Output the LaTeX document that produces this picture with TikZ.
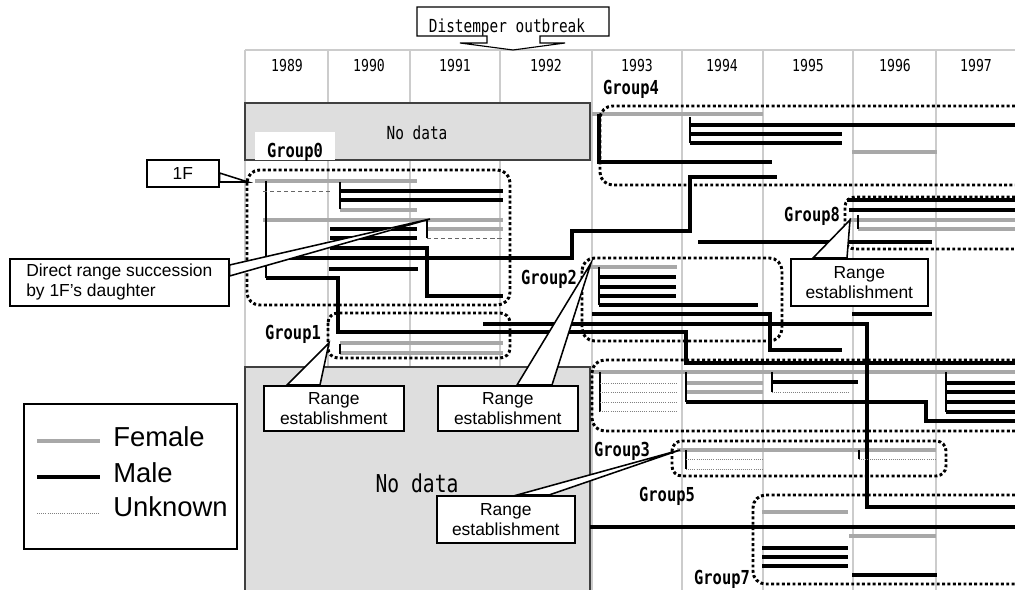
\documentclass[tikz,border=0pt]{standalone}
\usepackage{fontspec}
\setmainfont{Liberation Sans}
\newfontfamily\gothic[FakeStretch=0.8]{DejaVu Sans Mono}
\usepackage{tikz}
\usetikzlibrary{calc}

\definecolor{femgray}{gray}{0.66}
\definecolor{gridgray}{gray}{0.80}
\definecolor{nodatagray}{gray}{0.87}

\tikzset{
  femaleline/.style={draw=femgray, line width=2.3pt},
  maleline/.style={draw=black, line width=2.8pt},
  unknownline/.style={draw=gray, line width=0.5pt, densely dotted},
  unkdash/.style={draw=black!60, line width=0.6pt, dash pattern=on 3pt off 2pt},
  tie/.style={draw=black, line width=0.8pt},
  thicktie/.style={draw=black, line width=1.4pt},
  grouprim/.style={draw=black, line width=2.1pt, dash pattern=on 2.1pt off 1.7pt, rounded corners=9pt},
  grouplabel/.style={font=\gothic\bfseries\fontsize{13.7}{14}\selectfont, anchor=base, inner sep=1pt},
  yearlabel/.style={font=\gothic\fontsize{11.7}{12}\selectfont, anchor=base},
  callout/.style={draw=black, line width=1.1pt, fill=white, align=center, inner sep=0pt,
    font=\fontsize{12.4}{14.2}\selectfont, anchor=north west},
  pointer/.style={draw=black, line width=1.1pt, fill=white},
  nodata/.style={draw=black!75, line width=0.8pt, fill=nodatagray},
}

\begin{document}
\begin{tikzpicture}[x=0.025cm, y=-0.025cm]
  \useasboundingbox (0,0) rectangle (1015,590);
  \foreach \gx in {245,328,410,500,592,682,763,853,936}
    \draw[gridgray, line width=1pt] (\gx,50) -- (\gx,590);
  \draw[gridgray, line width=1pt] (245,50) -- (1015,50);
  \foreach \yr/\cx in {1989/287,1990/369,1991/455,1992/546,1993/637,1994/722,1995/808,1996/895,1997/976}
    \node[yearlabel] (y\yr) at (\cx,72) {\yr};

  \node[font=\gothic\fontsize{12.8}{13}\selectfont, anchor=base] (outbreak) at (507,33) {Distemper outbreak};
  \draw[line width=0.8pt] (417,7) -- (609,7) -- (609,36) -- (540,36) -- (540,43) -- (565,43)
    -- (513,50) -- (460,43) -- (487,43) -- (487,36) -- (417,36) -- cycle;

  \draw[nodata] (245,103) rectangle (590,160);
  \node[font=\gothic\fontsize{12.8}{13}\selectfont, anchor=base] (nodatatop) at (417,140) {No data};
  \draw[nodata] (245,367) rectangle (590,595);
  \node[font=\gothic\fontsize{17.5}{18}\selectfont, anchor=base] (nodatabottom) at (417,493) {No data};

  % female
  \foreach \ya/\xa/\xb in {181/255/417, 210/340/417, 220/263/503, 229/427/503, 343/340/503, 353/340/503,
      114/592/763, 152/852/937, 220/849/1015, 229/858/1015, 267/590/677, 372/592/1015,
      383/686/763, 392/686/763, 450/677/936, 512/762/848, 536/849/936}
    \draw[femaleline] (\xa,\ya) -- (\xb,\ya);
  % male
  \foreach \ya/\xa/\xb in {191/340/503, 200/340/503, 229/330/417, 238/330/417, 269/329/418,
      125/690/1015, 134/690/842, 143/690/842, 200/847/1015, 210/849/1015, 242/698/932,
      277/599/676, 287/599/676, 296/599/676, 305/599/758, 314/852/932, 382/772/858,
      383/946/1015, 392/946/1015, 402/946/1015, 412/946/1015, 527/590/1015,
      548/762/848, 557/762/848, 566/762/848, 575/852/937}
    \draw[maleline] (\xa,\ya) -- (\xb,\ya);
  \draw[maleline] (330,248) -| (427,296) -- (503,296);
  \draw[maleline] (266,258) -- (572,258) |- (690,231) |- (777,177);
  \draw[maleline] (266,278) -| (338,332) -| (686,363) -- (1015,363);
  \draw[maleline] (483,324) -| (867,507) -- (1015,507);
  \draw[maleline] (599,114) |- (772,162);
  \draw[maleline] (592,314) -| (770,350) -- (842,350);
  \draw[maleline] (686,402) -| (926,421) -- (1015,421);

  \draw[tie] (266,181) -- (266,278);
  \draw[tie] (427,220) -- (427,238);
  \draw[tie] (599,267) -- (599,305);
  \draw[tie] (600,372) -- (600,412);
  \draw[tie] (946,372) -- (946,412);
  \draw[tie] (859,450) -- (859,459);
  \draw[thicktie] (340,182) -- (340,209);
  \draw[thicktie] (340,344) -- (340,354);
  \draw[thicktie] (690,117) -- (690,143);
  \draw[thicktie] (858,215) -- (858,229);
  \draw[thicktie] (686,372) -- (686,402);
  \draw[thicktie] (772,372) -- (772,392);
  \draw[thicktie] (686,450) -- (686,469);

  % unknown
  \draw[unkdash] (263,191) -- (330,191);
  \draw[unkdash] (427,238) -- (503,238);
  \foreach \ya/\xa/\xb in {383/600/677, 392/600/677, 402/600/677, 411/600/677, 392/772/848,
      459/686/763, 469/686/763, 459/859/936}
    \draw[unknownline] (\xa,\ya) -- (\xb,\ya);

  % groups
  \draw[grouprim] (247,170) rectangle (510,305);
  \draw[grouprim, rounded corners=7pt] (328,313) rectangle (510,358);
  \draw[grouprim] (582,258) rectangle (782,341);
  \draw[grouprim, rounded corners=7pt] (672,441) rectangle (946,476);
  \draw[grouprim] (1015,106) -- (600,106) -- (600,185) -- (1015,185);
  \draw[grouprim, rounded corners=7pt] (1015,197) -- (845,197) -- (845,249) -- (1015,249);
  \draw[grouprim] (1015,360) -- (592,360) -- (592,431) -- (1015,431);
  \draw[grouprim] (1015,495) -- (753,495) -- (753,584) -- (1015,584);

  \fill[white] (255,132) rectangle (335,160);
  \node[grouplabel] (group0) at (295,158) {Group0};
  \node[grouplabel] (group1) at (293,340) {Group1};
  \node[grouplabel] (group2) at (549,285) {Group2};
  \node[grouplabel] (group3) at (622,457) {Group3};
  \node[grouplabel] (group4) at (631,95) {Group4};
  \node[grouplabel] (group5) at (667,502) {Group5};
  \node[grouplabel] (group7) at (722,584) {Group7};
  \node[grouplabel] (group8) at (812,222) {Group8};

  % callouts
  \node[callout, minimum width=1.8cm, minimum height=0.675cm] (onef) at (146,159) {1F};
  \coordinate (onefTip) at (248,182);
  \draw[pointer] ($(onef.north east)+(0,14)$) -- (onefTip) -- ($(onef.north east)+(0,23)$) -- cycle;

  \node[callout, align=left, minimum width=5.475cm, minimum height=1.175cm] (succession) at (9,258)
    {Direct range succession\\by 1F’s daughter};
  \coordinate (successionTip) at (430,219);
  \draw[pointer] ($(succession.north east)+(0,7)$) -- (successionTip) -- ($(succession.north east)+(0,18)$) -- cycle;

  \node[callout, minimum width=3.5cm, minimum height=1.125cm] (estab1) at (263,385) {Range\\establishment};
  \coordinate (estab1Tip) at (329,343);
  \draw[pointer] ($(estab1.north west)+(24,0)$) -- (estab1Tip) -- ($(estab1.north west)+(57,0)$) -- cycle;

  \node[callout, minimum width=3.5cm, minimum height=1.125cm] (estab2) at (437,385) {Range\\establishment};
  \coordinate (estab2Tip) at (591,263);
  \draw[pointer] ($(estab2.north west)+(80,0)$) -- (estab2Tip) -- ($(estab2.north west)+(115,0)$) -- cycle;

  \node[callout, minimum width=3.425cm, minimum height=1.175cm] (estab3) at (790,258) {Range\\establishment};
  \coordinate (estab3Tip) at (850,220);
  \draw[pointer] ($(estab3.north west)+(23,0)$) -- (estab3Tip) -- ($(estab3.north west)+(57,0)$) -- cycle;

  \node[callout, minimum width=3.45cm, minimum height=1.175cm] (estab4) at (436,495) {Range\\establishment};
  \coordinate (estab4Tip) at (680,450);
  \draw[pointer] ($(estab4.north west)+(81,0)$) -- (estab4Tip) -- ($(estab4.north west)+(113,0)$) -- cycle;

  % legend
  \draw[line width=0.8pt] (24,404) rectangle (237,549);
  \draw[femaleline] (37,441) -- (100,441);
  \draw[maleline] (37,477) -- (100,477);
  \draw[unknownline] (37,513) -- (100,513);
  \node[anchor=base west, font=\fontsize{19.5}{20}\selectfont, inner sep=0pt] (legfemale) at (113,447) {Female};
  \node[anchor=base west, font=\fontsize{19.5}{20}\selectfont, inner sep=0pt] (legmale) at (113,483) {Male};
  \node[anchor=base west, font=\fontsize{19.5}{20}\selectfont, inner sep=0pt] (legunknown) at (113,517) {Unknown};
\end{tikzpicture}
\end{document}
